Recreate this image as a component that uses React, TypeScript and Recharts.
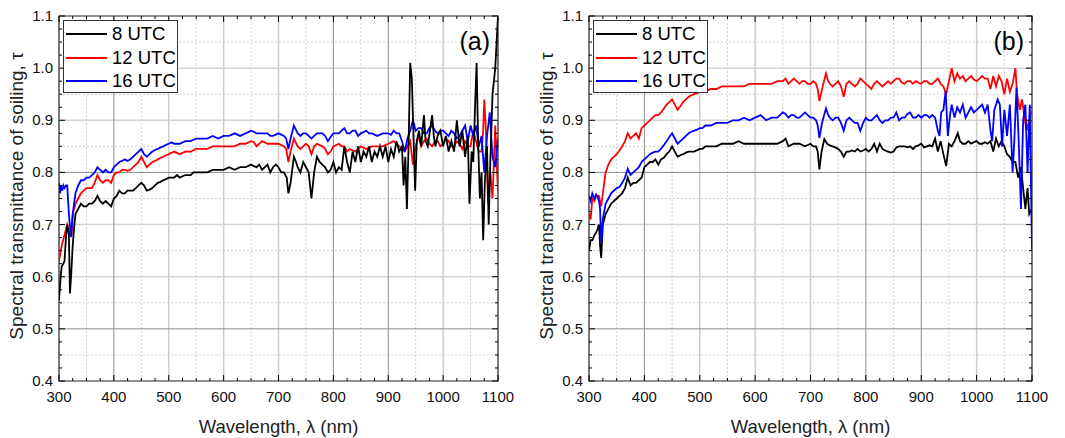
import React from 'react';
import { LineChart, Line, XAxis, YAxis, ReferenceLine, ReferenceArea } from 'recharts';

type Pt = [number, number];

// ---------- axis ticks / labels ----------
const X_TICKS = [300, 325, 350, 375, 400, 425, 450, 475, 500, 525, 550, 575, 600, 625, 650, 675, 700, 725, 750, 775, 800, 825, 850, 875, 900, 925, 950, 975, 1000, 1025, 1050, 1075, 1100];
const X_LABELS = [300, 400, 500, 600, 700, 800, 900, 1000, 1100];
const Y_TICKS = [0.4, 0.425, 0.45, 0.475, 0.5, 0.525, 0.55, 0.575, 0.6, 0.625, 0.65, 0.675, 0.7, 0.725, 0.75, 0.775, 0.8, 0.825, 0.85, 0.875, 0.9, 0.925, 0.95, 0.975, 1.0, 1.025, 1.05, 1.075, 1.1];
const Y_LABELS = [0.4, 0.5, 0.6, 0.7, 0.8, 0.9, 1.0, 1.1];

const X_GRID_DARK = [400, 800, 900];
const X_GRID_LIGHT = [500, 600, 700, 1000];
const X_GRID_DOT = [350, 450, 550, 650, 750, 850, 950, 1050];
const Y_GRID_DARK = [0.5, 0.8];
const Y_GRID_LIGHT = [0.6, 0.7, 0.9, 1.0];
const Y_GRID_DOT = [0.45, 0.55, 0.65, 0.75, 0.85, 0.95, 1.05];

const SERIES_NAMES = ['8 UTC', '12 UTC', '16 UTC'];
const SERIES_COLORS = ['#000000', '#ff0000', '#0000ff'];

// ---------- panel (a) ----------
const A_8UTC: Pt[] = [[300,0.555],[303,0.60],[305,0.62],[308,0.625],[310,0.63],[313,0.68],[315,0.70],[318,0.68],[320,0.568],[322,0.60],[325,0.66],[328,0.70],[330,0.72],[335,0.73],[340,0.74],[345,0.735],[350,0.735],[355,0.74],[360,0.74],[365,0.745],[370,0.755],[375,0.745],[380,0.74],[385,0.745],[390,0.74],[395,0.735],[400,0.75],[405,0.755],[410,0.765],[415,0.76],[420,0.76],[425,0.765],[430,0.765],[435,0.765],[440,0.77],[445,0.775],[450,0.78],[455,0.775],[460,0.765],[465,0.767],[470,0.77],[475,0.775],[480,0.78],[485,0.782],[490,0.785],[495,0.787],[500,0.79],[510,0.79],[515,0.795],[520,0.79],[530,0.795],[540,0.795],[545,0.80],[550,0.80],[560,0.80],[570,0.80],[580,0.805],[590,0.805],[600,0.805],[610,0.81],[620,0.805],[630,0.81],[640,0.81],[650,0.815],[655,0.812],[660,0.81],[665,0.815],[670,0.805],[680,0.815],[685,0.80],[690,0.81],[695,0.815],[700,0.81],[705,0.80],[710,0.80],[715,0.79],[718,0.76],[722,0.78],[728,0.83],[732,0.82],[735,0.81],[740,0.80],[745,0.82],[750,0.81],[755,0.80],[760,0.75],[765,0.80],[770,0.83],[775,0.82],[780,0.815],[785,0.81],[790,0.80],[795,0.805],[800,0.82],[805,0.80],[810,0.81],[815,0.805],[820,0.85],[825,0.82],[830,0.80],[835,0.84],[840,0.82],[845,0.85],[850,0.82],[855,0.84],[860,0.83],[865,0.85],[870,0.82],[875,0.84],[880,0.83],[885,0.85],[890,0.83],[895,0.85],[900,0.82],[905,0.845],[910,0.83],[915,0.86],[920,0.84],[925,0.85],[928,0.775],[931,0.83],[934,0.73],[937,0.85],[940,1.01],[943,0.98],[946,0.87],[949,0.765],[952,0.86],[956,0.88],[960,0.85],[965,0.91],[968,0.86],[972,0.85],[976,0.88],[980,0.91],[983,0.87],[986,0.85],[990,0.87],[995,0.88],[1000,0.85],[1005,0.87],[1010,0.84],[1015,0.86],[1020,0.84],[1025,0.90],[1030,0.85],[1035,0.88],[1040,0.83],[1045,0.87],[1048,0.74],[1052,0.84],[1055,0.82],[1058,0.92],[1061,1.01],[1064,0.85],[1067,0.75],[1070,0.80],[1073,0.67],[1076,0.78],[1080,0.85],[1083,0.70],[1086,0.82],[1090,0.95],[1095,1.0],[1100,1.1]];

const A_12UTC: Pt[] = [[300,0.63],[305,0.66],[310,0.68],[315,0.70],[320,0.68],[323,0.68],[325,0.72],[330,0.74],[335,0.75],[340,0.76],[345,0.765],[350,0.77],[355,0.77],[360,0.77],[365,0.78],[370,0.795],[375,0.785],[380,0.78],[385,0.785],[390,0.785],[395,0.78],[400,0.795],[405,0.80],[410,0.80],[415,0.805],[420,0.805],[425,0.803],[430,0.805],[435,0.81],[440,0.815],[445,0.82],[450,0.83],[455,0.82],[460,0.81],[465,0.815],[470,0.82],[475,0.822],[480,0.825],[485,0.828],[490,0.83],[495,0.833],[500,0.835],[510,0.84],[520,0.835],[530,0.84],[540,0.84],[550,0.845],[560,0.845],[570,0.845],[580,0.85],[590,0.85],[600,0.85],[610,0.85],[620,0.85],[630,0.855],[640,0.855],[650,0.86],[655,0.858],[660,0.85],[670,0.86],[680,0.855],[690,0.855],[700,0.855],[710,0.85],[714,0.845],[718,0.82],[722,0.84],[728,0.865],[735,0.85],[740,0.845],[745,0.85],[750,0.855],[755,0.85],[760,0.835],[765,0.85],[770,0.855],[780,0.85],[785,0.845],[790,0.835],[795,0.84],[800,0.85],[810,0.855],[815,0.85],[820,0.85],[825,0.84],[830,0.845],[840,0.84],[850,0.85],[860,0.845],[870,0.85],[880,0.85],[890,0.85],[900,0.855],[910,0.86],[915,0.855],[920,0.85],[925,0.845],[930,0.84],[935,0.85],[940,0.86],[945,0.815],[950,0.85],[955,0.87],[960,0.85],[965,0.86],[970,0.865],[975,0.855],[980,0.85],[985,0.86],[990,0.86],[995,0.85],[1000,0.855],[1005,0.865],[1010,0.86],[1015,0.85],[1020,0.85],[1025,0.86],[1030,0.855],[1035,0.845],[1040,0.86],[1045,0.85],[1050,0.85],[1055,0.88],[1060,0.86],[1065,0.84],[1070,0.84],[1073,0.88],[1075,0.94],[1078,0.88],[1082,0.74],[1086,0.80],[1090,0.75],[1095,0.89],[1100,0.76]];

const A_16UTC: Pt[] = [[300,0.78],[302,0.76],[304,0.775],[306,0.765],[308,0.775],[310,0.77],[313,0.775],[315,0.775],[318,0.72],[322,0.676],[325,0.72],[330,0.76],[335,0.775],[340,0.785],[345,0.785],[350,0.79],[355,0.79],[360,0.795],[365,0.80],[370,0.81],[375,0.805],[380,0.80],[385,0.805],[390,0.80],[395,0.80],[400,0.81],[405,0.815],[410,0.82],[415,0.822],[420,0.825],[425,0.822],[430,0.825],[435,0.83],[440,0.835],[445,0.84],[450,0.845],[455,0.835],[460,0.83],[465,0.835],[470,0.84],[475,0.843],[480,0.845],[485,0.848],[490,0.85],[495,0.853],[500,0.855],[505,0.858],[510,0.855],[520,0.855],[530,0.86],[540,0.86],[550,0.865],[560,0.865],[570,0.865],[580,0.87],[590,0.865],[600,0.87],[610,0.87],[620,0.875],[630,0.87],[640,0.875],[650,0.88],[655,0.878],[660,0.875],[670,0.875],[680,0.875],[685,0.87],[690,0.87],[700,0.875],[710,0.87],[714,0.865],[718,0.845],[722,0.865],[728,0.89],[735,0.875],[740,0.87],[745,0.875],[750,0.875],[755,0.87],[760,0.865],[765,0.87],[770,0.875],[780,0.875],[785,0.87],[790,0.86],[795,0.868],[800,0.875],[810,0.875],[815,0.88],[820,0.885],[825,0.875],[830,0.875],[835,0.88],[840,0.88],[845,0.87],[850,0.875],[860,0.88],[865,0.875],[870,0.875],[880,0.87],[890,0.875],[900,0.875],[905,0.872],[910,0.88],[915,0.875],[920,0.875],[925,0.86],[930,0.84],[935,0.865],[940,0.88],[945,0.90],[950,0.88],[955,0.885],[960,0.885],[965,0.875],[970,0.875],[975,0.885],[980,0.89],[985,0.88],[990,0.875],[995,0.88],[1000,0.88],[1005,0.875],[1010,0.87],[1015,0.88],[1020,0.875],[1025,0.865],[1030,0.87],[1035,0.88],[1040,0.89],[1045,0.86],[1050,0.89],[1055,0.87],[1060,0.89],[1065,0.85],[1070,0.87],[1075,0.80],[1080,0.87],[1085,0.915],[1090,0.83],[1095,0.81],[1100,0.865]];

// ---------- panel (b) ----------
const B_8UTC: Pt[] = [[300,0.65],[303,0.67],[306,0.67],[310,0.68],[313,0.685],[315,0.69],[318,0.70],[320,0.66],[322,0.636],[325,0.70],[330,0.72],[335,0.73],[340,0.74],[345,0.745],[350,0.75],[355,0.755],[360,0.76],[365,0.77],[370,0.79],[375,0.775],[380,0.78],[385,0.78],[390,0.785],[395,0.79],[400,0.81],[405,0.815],[410,0.82],[415,0.82],[420,0.825],[425,0.815],[430,0.825],[435,0.828],[440,0.835],[445,0.84],[450,0.85],[455,0.84],[460,0.83],[465,0.833],[470,0.835],[475,0.838],[480,0.84],[490,0.84],[500,0.845],[505,0.845],[510,0.85],[520,0.85],[530,0.85],[540,0.855],[550,0.855],[560,0.855],[570,0.86],[580,0.855],[590,0.855],[600,0.855],[610,0.855],[620,0.855],[630,0.855],[640,0.855],[650,0.86],[655,0.865],[660,0.85],[670,0.855],[680,0.855],[690,0.85],[700,0.855],[705,0.85],[710,0.85],[713,0.84],[716,0.806],[720,0.84],[725,0.864],[730,0.855],[735,0.852],[740,0.85],[745,0.848],[750,0.845],[755,0.84],[760,0.83],[765,0.84],[770,0.84],[775,0.842],[780,0.84],[785,0.845],[790,0.84],[795,0.842],[800,0.845],[805,0.84],[810,0.845],[815,0.855],[820,0.84],[825,0.855],[830,0.845],[835,0.842],[840,0.84],[845,0.838],[850,0.84],[855,0.848],[860,0.85],[865,0.85],[870,0.85],[875,0.848],[880,0.85],[885,0.845],[890,0.85],[895,0.852],[900,0.855],[905,0.848],[910,0.85],[915,0.852],[920,0.85],[925,0.865],[930,0.84],[935,0.86],[940,0.835],[945,0.812],[950,0.855],[955,0.85],[960,0.86],[966,0.875],[970,0.86],[975,0.855],[980,0.855],[985,0.86],[990,0.855],[995,0.858],[1000,0.86],[1005,0.855],[1010,0.855],[1015,0.858],[1020,0.855],[1025,0.86],[1030,0.84],[1035,0.865],[1040,0.85],[1045,0.86],[1050,0.85],[1055,0.835],[1060,0.83],[1065,0.82],[1070,0.82],[1075,0.79],[1080,0.81],[1085,0.76],[1088,0.73],[1092,0.77],[1095,0.72],[1100,0.73]];

const B_12UTC: Pt[] = [[300,0.72],[303,0.71],[306,0.75],[310,0.745],[313,0.755],[315,0.755],[318,0.755],[320,0.745],[322,0.735],[325,0.76],[330,0.80],[335,0.815],[340,0.825],[345,0.83],[350,0.835],[355,0.842],[360,0.85],[365,0.86],[370,0.875],[375,0.865],[380,0.87],[385,0.875],[390,0.865],[395,0.885],[400,0.89],[405,0.895],[410,0.90],[415,0.905],[420,0.91],[425,0.91],[430,0.915],[435,0.922],[440,0.93],[445,0.935],[450,0.94],[455,0.93],[460,0.92],[465,0.927],[470,0.935],[475,0.94],[480,0.945],[485,0.948],[490,0.95],[495,0.952],[500,0.955],[510,0.955],[520,0.96],[530,0.96],[540,0.965],[550,0.965],[560,0.965],[570,0.965],[580,0.965],[590,0.97],[600,0.97],[610,0.97],[620,0.97],[630,0.97],[640,0.975],[650,0.975],[655,0.98],[660,0.97],[665,0.975],[670,0.98],[675,0.975],[680,0.97],[685,0.975],[690,0.975],[695,0.97],[700,0.97],[705,0.975],[710,0.97],[713,0.96],[716,0.937],[720,0.955],[722,0.965],[728,0.99],[732,0.975],[735,0.97],[740,0.965],[745,0.97],[750,0.975],[755,0.965],[760,0.945],[765,0.97],[770,0.975],[775,0.97],[780,0.965],[785,0.97],[790,0.98],[795,0.975],[800,0.97],[805,0.965],[810,0.96],[815,0.97],[820,0.975],[825,0.97],[830,0.965],[835,0.97],[840,0.975],[845,0.97],[850,0.975],[855,0.98],[860,0.98],[865,0.972],[870,0.97],[875,0.975],[880,0.975],[885,0.97],[890,0.975],[895,0.972],[900,0.97],[905,0.975],[910,0.975],[915,0.97],[920,0.97],[925,0.975],[930,0.98],[935,0.97],[940,0.965],[945,0.95],[950,0.975],[955,1.0],[960,0.975],[965,0.99],[970,0.98],[975,0.985],[980,0.975],[985,0.98],[990,0.985],[995,0.978],[1000,0.975],[1005,0.98],[1010,0.985],[1015,0.98],[1020,0.98],[1025,0.96],[1030,0.985],[1035,0.965],[1040,0.985],[1045,0.975],[1050,0.95],[1055,0.98],[1060,0.955],[1065,0.97],[1070,1.0],[1073,0.95],[1078,0.92],[1082,0.94],[1086,0.91],[1090,0.88],[1095,0.90],[1100,0.92]];

const B_16UTC: Pt[] = [[300,0.755],[303,0.745],[306,0.76],[310,0.75],[313,0.758],[315,0.755],[318,0.745],[320,0.73],[322,0.665],[325,0.71],[330,0.74],[335,0.75],[340,0.76],[345,0.765],[350,0.77],[355,0.772],[360,0.78],[365,0.79],[370,0.807],[375,0.795],[380,0.80],[385,0.805],[390,0.81],[395,0.82],[400,0.825],[405,0.83],[410,0.835],[415,0.838],[420,0.84],[425,0.84],[430,0.845],[435,0.852],[440,0.86],[445,0.868],[450,0.875],[455,0.865],[460,0.855],[465,0.86],[470,0.865],[475,0.87],[480,0.875],[485,0.878],[490,0.88],[495,0.882],[500,0.885],[505,0.885],[510,0.89],[520,0.89],[530,0.895],[540,0.895],[550,0.895],[560,0.90],[570,0.90],[580,0.905],[590,0.90],[600,0.905],[610,0.91],[620,0.90],[630,0.905],[640,0.905],[650,0.915],[655,0.912],[660,0.905],[665,0.91],[670,0.91],[675,0.905],[680,0.905],[685,0.91],[690,0.915],[695,0.91],[700,0.905],[705,0.905],[710,0.90],[713,0.89],[716,0.866],[720,0.89],[722,0.90],[728,0.923],[732,0.91],[735,0.905],[740,0.90],[745,0.905],[750,0.905],[755,0.895],[760,0.88],[765,0.90],[770,0.905],[775,0.90],[780,0.895],[785,0.895],[790,0.88],[795,0.895],[800,0.905],[805,0.90],[810,0.90],[815,0.905],[820,0.91],[825,0.90],[830,0.895],[835,0.90],[840,0.90],[845,0.905],[850,0.905],[855,0.915],[860,0.90],[865,0.905],[870,0.905],[875,0.912],[880,0.915],[885,0.905],[890,0.905],[895,0.91],[900,0.905],[905,0.91],[910,0.91],[915,0.905],[920,0.91],[925,0.905],[930,0.88],[933,0.87],[936,0.915],[940,0.92],[944,0.956],[948,0.87],[952,0.91],[955,0.93],[960,0.905],[965,0.925],[970,0.915],[975,0.93],[980,0.905],[985,0.915],[990,0.925],[995,0.915],[1000,0.92],[1005,0.925],[1010,0.93],[1015,0.915],[1020,0.93],[1025,0.88],[1028,0.86],[1032,0.92],[1038,0.94],[1042,0.93],[1046,0.85],[1050,0.92],[1055,0.87],[1060,0.93],[1065,0.80],[1068,0.86],[1072,0.963],[1076,0.86],[1080,0.73],[1084,0.90],[1088,0.93],[1092,0.80],[1096,0.93],[1100,0.65]];

const FONT = '"Liberation Sans", Arial, Helvetica, sans-serif';
const CHART_H = 438;
const M_TOP = 16;
const PLOT_LEFT = 59;
const PLOT_BOTTOM_GAP = 57;
const Y_AXIS_W = 40;
const X_AXIS_H = 30;
const PLOT_H = CHART_H - M_TOP - PLOT_BOTTOM_GAP;

const toRows = (pts: Pt[]) => pts.map(([wl, t]) => ({ wl, t }));

interface PanelProps {
  tag: string;
  width: number;
  rightMargin: number;
  series: Pt[][];
  order: number[];
}

function Panel({ tag, width, rightMargin, series, order }: PanelProps) {
  const plotW = width - PLOT_LEFT - rightMargin;

  const renderXTick = (props: any) => {
    const { x, y, payload } = props;
    const v = payload.value;
    const major = X_LABELS.includes(v);
    const len = major ? 6 : 3;
    return (
      <g key={'xt' + v}>
        <line x1={x} x2={x} y1={y} y2={y - len} stroke="#000" strokeWidth={1} />
        <line x1={x} x2={x} y1={y - PLOT_H} y2={y - PLOT_H + len} stroke="#000" strokeWidth={1} />
        {major && (
          <text x={x} y={y + 21} textAnchor="middle" fontSize={15} fontFamily={FONT} fill="#111">
            {v}
          </text>
        )}
      </g>
    );
  };

  const renderYTick = (props: any) => {
    const { x, y, payload } = props;
    const v = payload.value;
    const major = Y_LABELS.some((m) => Math.abs(m - v) < 1e-9);
    const len = major ? 6 : 3;
    return (
      <g key={'yt' + v}>
        <line x1={x} x2={x + len} y1={y} y2={y} stroke="#000" strokeWidth={1} />
        <line x1={x + plotW} x2={x + plotW - len} y1={y} y2={y} stroke="#000" strokeWidth={1} />
        {major && (
          <text x={x - 6} y={y + 5} textAnchor="end" fontSize={15} fontFamily={FONT} fill="#111">
            {v.toFixed(1)}
          </text>
        )}
      </g>
    );
  };

  return (
    <div style={{ position: 'relative', width, height: CHART_H }}>
      <LineChart
        width={width}
        height={CHART_H}
        margin={{ top: M_TOP, right: rightMargin, bottom: PLOT_BOTTOM_GAP - X_AXIS_H, left: PLOT_LEFT - Y_AXIS_W }}
      >
        {X_GRID_DOT.map((v) => (
          <ReferenceLine key={'xd' + v} x={v} stroke="#cfcfcf" strokeDasharray="2 2" strokeWidth={1} />
        ))}
        {Y_GRID_DOT.map((v) => (
          <ReferenceLine key={'yd' + v} y={v} stroke="#cfcfcf" strokeDasharray="2 2" strokeWidth={1} />
        ))}
        {X_GRID_LIGHT.map((v) => (
          <ReferenceLine key={'xl' + v} x={v} stroke="#cccccc" strokeWidth={1.5} />
        ))}
        {Y_GRID_LIGHT.map((v) => (
          <ReferenceLine key={'yl' + v} y={v} stroke="#d4d4d4" strokeWidth={1.5} />
        ))}
        {X_GRID_DARK.map((v) => (
          <ReferenceLine key={'xk' + v} x={v} stroke="#8c8c8c" strokeWidth={1} />
        ))}
        {Y_GRID_DARK.map((v) => (
          <ReferenceLine key={'yk' + v} y={v} stroke="#8c8c8c" strokeWidth={1} />
        ))}
        {order.map((i) => (
          <Line
            key={SERIES_NAMES[i]}
            data={toRows(series[i])}
            dataKey="t"
            name={SERIES_NAMES[i]}
            type="linear"
            stroke={SERIES_COLORS[i]}
            strokeWidth={1.8}
            dot={false}
            activeDot={false}
            isAnimationActive={false}
          />
        ))}
        <ReferenceArea x1={300} x2={1100} y1={0.4} y2={1.1} fill="none" fillOpacity={0} stroke="#222" strokeWidth={1.2} />
        <XAxis
          type="number"
          dataKey="wl"
          domain={[300, 1100]}
          ticks={X_TICKS}
          interval={0}
          allowDataOverflow
          height={X_AXIS_H}
          tickSize={0}
          tickMargin={0}
          tickLine={false}
          axisLine={false}
          tick={renderXTick}
        />
        <YAxis
          type="number"
          domain={[0.4, 1.1]}
          ticks={Y_TICKS}
          interval={0}
          allowDataOverflow
          width={Y_AXIS_W}
          tickSize={0}
          tickMargin={0}
          tickLine={false}
          axisLine={false}
          tick={renderYTick}
        />
      </LineChart>

      {/* axis titles */}
      <div
        style={{
          position: 'absolute',
          left: PLOT_LEFT,
          width: plotW,
          top: 417,
          textAlign: 'center',
          fontFamily: FONT,
          fontSize: 18.5,
          lineHeight: '20px',
          color: '#222',
          whiteSpace: 'nowrap',
        }}
      >
        Wavelength, λ (nm)
      </div>
      <div
        style={{
          position: 'absolute',
          left: 17,
          top: M_TOP + PLOT_H / 2 - 3,
          transform: 'translate(-50%, -50%) rotate(-90deg)',
          fontFamily: FONT,
          fontSize: 19,
          lineHeight: '20px',
          color: '#222',
          whiteSpace: 'nowrap',
        }}
      >
        Spectral transmittance of soiling, τ
      </div>

      {/* panel tag */}
      <div
        style={{
          position: 'absolute',
          left: PLOT_LEFT + plotW - 130,
          width: 122,
          top: 27,
          textAlign: 'right',
          fontFamily: FONT,
          fontSize: 25,
          lineHeight: '28px',
          color: '#000',
        }}
      >
        {tag}
      </div>

      {/* legend */}
      <div
        style={{
          position: 'absolute',
          left: PLOT_LEFT + 4,
          top: 20,
          width: 115,
          height: 73,
          boxSizing: 'border-box',
          border: '1px solid #333',
          background: '#fff',
          fontFamily: FONT,
          fontSize: 18.5,
          color: '#000',
        }}
      >
        {SERIES_NAMES.map((n, i) => (
          <div key={n} style={{ position: 'absolute', left: 2, top: 2 + i * 23.5, height: 22, display: 'flex', alignItems: 'center' }}>
            <div style={{ width: 41, height: 2, background: SERIES_COLORS[i], marginRight: 5 }} />
            <span style={{ lineHeight: '22px', whiteSpace: 'nowrap' }}>{n}</span>
          </div>
        ))}
      </div>
    </div>
  );
}

export default function App() {
  return (
    <div style={{ position: 'absolute', left: 0, top: 0, width: 1065, height: 438, background: '#fff', display: 'flex' }}>
      <Panel tag="(a)" width={530} rightMargin={32} series={[A_8UTC, A_12UTC, A_16UTC]} order={[1, 2, 0]} />
      <Panel tag="(b)" width={535} rightMargin={33} series={[B_8UTC, B_12UTC, B_16UTC]} order={[0, 1, 2]} />
    </div>
  );
}
